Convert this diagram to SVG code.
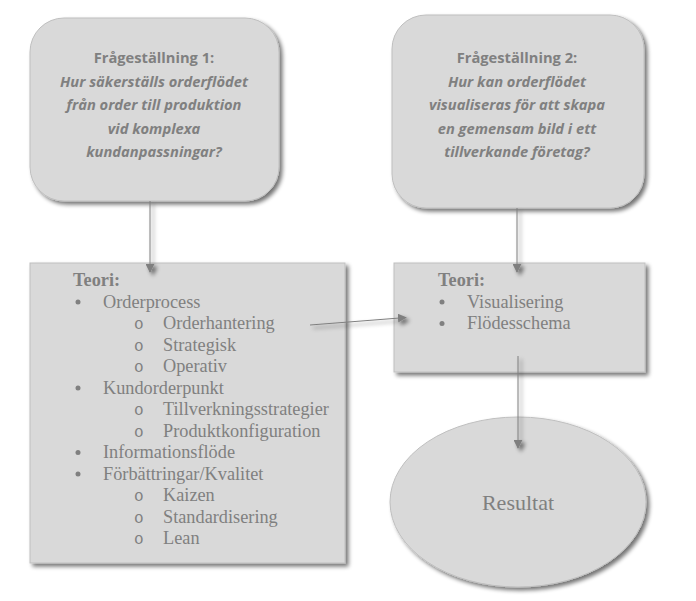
<svg xmlns="http://www.w3.org/2000/svg" width="696" height="601" viewBox="0 0 696 601">
<defs>
<filter id="sh" x="-10%" y="-10%" width="125%" height="125%">
<feGaussianBlur in="SourceAlpha" stdDeviation="2"/>
<feOffset dx="3" dy="3" result="b"/>
<feComponentTransfer><feFuncA type="linear" slope="0.55"/></feComponentTransfer>
<feMerge><feMergeNode/><feMergeNode in="SourceGraphic"/></feMerge>
</filter>
<marker id="ah" viewBox="0 0 10 10" refX="9" refY="5" markerWidth="9" markerHeight="9" markerUnits="userSpaceOnUse" orient="auto">
<path d="M0,0 L10,5 L0,10 z" fill="#7f7f7f"/>
</marker>
</defs>
<style>
.box{fill:#d9d9d9;stroke:#bfbfbf;stroke-width:1}
.q{font-family:"Open Sans","Lato","Liberation Sans",sans-serif;font-size:14.7px;fill:#808080;text-anchor:middle;font-weight:bold}
.qi{font-style:italic}
.t{font-family:"Liberation Serif","Times New Roman",serif;font-size:18.3px;fill:#808080}
.tb{font-weight:bold}
.o{font-family:"Liberation Mono","Courier New",monospace;font-size:16px;fill:#808080}
.bl{fill:#808080}
.c{stroke:#7f7f7f;stroke-width:1;fill:none}
</style>
<rect width="696" height="601" fill="#ffffff"/>
<g id="q1">
<rect class="box" x="30" y="18" width="249" height="183" rx="34" filter="url(#sh)"/>
<text class="q" x="154" y="63">Frågeställning  1:</text>
<text class="q qi" x="154" y="87">Hur säkerställs orderflödet</text>
<text class="q qi" x="154" y="110">från order till produktion</text>
<text class="q qi" x="154" y="134">vid komplexa</text>
<text class="q qi" x="154" y="157">kundanpassningar?</text>
</g>
<g id="q2">
<rect class="box" x="392" y="15" width="252" height="193" rx="34" filter="url(#sh)"/>
<text class="q" x="517" y="63">Frågeställning  2:</text>
<text class="q qi" x="517" y="87">Hur kan orderflödet</text>
<text class="q qi" x="517" y="110">visualiseras för att skapa</text>
<text class="q qi" x="517" y="134">en gemensam bild i ett</text>
<text class="q qi" x="517" y="157">tillverkande företag?</text>
</g>
<g id="teori1">
<rect class="box" x="30" y="263" width="315" height="300" filter="url(#sh)"/>
<text class="t tb" x="73" y="286">Teori:</text>
<circle class="bl" cx="78" cy="302" r="2.5"/>
<text class="t" x="103" y="307.5">Orderprocess</text>
<text class="o" x="134" y="329">o</text><text class="t" x="163" y="329">Orderhantering</text>
<text class="o" x="134" y="350.5">o</text><text class="t" x="163" y="350.5">Strategisk</text>
<text class="o" x="134" y="372">o</text><text class="t" x="163" y="372">Operativ</text>
<circle class="bl" cx="78" cy="388" r="2.5"/>
<text class="t" x="103" y="393.5">Kundorderpunkt</text>
<text class="o" x="134" y="415">o</text><text class="t" x="163" y="415">Tillverkningsstrategier</text>
<text class="o" x="134" y="436.5">o</text><text class="t" x="163" y="436.5">Produktkonfiguration</text>
<circle class="bl" cx="78" cy="452.5" r="2.5"/>
<text class="t" x="103" y="458">Informationsflöde</text>
<circle class="bl" cx="78" cy="474" r="2.5"/>
<text class="t" x="103" y="479.5">Förbättringar/Kvalitet</text>
<text class="o" x="134" y="501">o</text><text class="t" x="163" y="501">Kaizen</text>
<text class="o" x="134" y="522.5">o</text><text class="t" x="163" y="522.5">Standardisering</text>
<text class="o" x="134" y="544">o</text><text class="t" x="163" y="544">Lean</text>
</g>
<g id="teori2">
<rect class="box" x="394" y="263" width="251" height="109" filter="url(#sh)"/>
<text class="t tb" x="438" y="286">Teori:</text>
<circle class="bl" cx="442" cy="302" r="2.5"/>
<text class="t" x="467" y="307.5">Visualisering</text>
<circle class="bl" cx="442" cy="323.5" r="2.5"/>
<text class="t" x="467" y="329">Flödesschema</text>
</g>
<g id="resultat">
<ellipse class="box" cx="518" cy="502" rx="128" ry="85" stroke="#a6a6a6" filter="url(#sh)"/>
<text x="518" y="510" font-family="Liberation Serif, Times New Roman, serif" font-size="22" fill="#808080" text-anchor="middle">Resultat</text>
</g>
<g id="connectors" filter="url(#sh)">
<line class="c" x1="150" y1="201" x2="150" y2="272" marker-end="url(#ah)"/>
<line class="c" x1="517" y1="208" x2="517" y2="272" marker-end="url(#ah)"/>
<line class="c" x1="310" y1="325" x2="406" y2="317.5" marker-end="url(#ah)"/>
<line class="c" x1="518" y1="356" x2="518" y2="448" marker-end="url(#ah)"/>
</g>
</svg>
